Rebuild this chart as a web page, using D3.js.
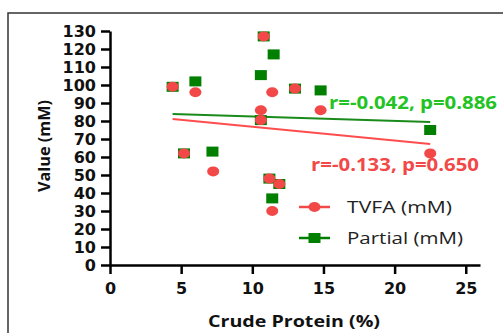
<!DOCTYPE html>
<html>
<head>
<meta charset="utf-8">
<script src="https://cdn.jsdelivr.net/npm/d3@7"></script>
<style>
  body { margin: 0; background: #fff; }
  svg { display: block; }
</style>
</head>
<body>
<div id="chart"></div>
<script>
// crude protein (%) for each sample
const protein = [4.4, 6.0, 5.2, 7.25, 10.8, 11.4, 10.6, 10.6, 13.0, 14.8, 22.5, 11.2, 11.9, 11.4];
const tvfa    = [99, 96, 62, 52, 127, 96, 86, 80.5, 98, 86, 62, 48, 45, 30];
const proteinP = [4.4, 6.0, 5.2, 7.2, 10.8, 11.5, 10.6, 10.6, 13.0, 14.8, 22.5, 11.2, 11.9, 11.4];
const partial  = [99, 102, 62, 63, 127, 117, 105.5, 80.5, 98, 97, 75, 48, 45, 37];

// fitted lines [x, y]
const tvfaFit    = [[4.4, 81.1], [22.5, 67.2]];
const partialFit = [[4.4, 83.9], [22.5, 79.4]];

const xTicks = [0, 5, 10, 15, 20, 25];
const yTicks = [0, 10, 20, 30, 40, 50, 60, 70, 80, 90, 100, 110, 120, 130];

const width = 503, height = 333;
const red = "#f24848", green = "#007f00";

const svg = d3.select("#chart").append("svg")
    .attr("width", width)
    .attr("height", height);

// outer frame
svg.append("rect")
    .attr("x", 8).attr("y", 13)
    .attr("width", 520).attr("height", 340)
    .attr("fill", "none")
    .attr("stroke", "#333")
    .attr("stroke-width", 1.5);

const x = d3.scaleLinear().domain([0, 26]).range([110, 480]);
const y = d3.scaleLinear().domain([0, 130]).range([265, 31]);

const tickFont = "bold 16px 'DejaVu Sans'";

const xAxis = svg.append("g")
    .attr("transform", `translate(0,${y(0)})`)
    .call(d3.axisBottom(x).tickValues(xTicks).tickSize(9).tickPadding(9).tickSizeOuter(0));
const yAxis = svg.append("g")
    .attr("transform", `translate(${x(0)},0)`)
    .call(d3.axisLeft(y).tickValues(yTicks).tickSize(9).tickPadding(5).tickSizeOuter(0));

[xAxis, yAxis].forEach(g => {
    g.select(".domain").attr("stroke", "#000").attr("stroke-width", 2.5);
    g.selectAll(".tick line").attr("stroke", "#000").attr("stroke-width", 2.5);
    g.selectAll(".tick text").style("font", tickFont).attr("fill", "#111");
});
yAxis.selectAll(".tick text").attr("dy", "0.36em");

// axis titles
svg.append("text")
    .attr("x", 294).attr("y", 327)
    .attr("text-anchor", "middle")
    .attr("textLength", 172).attr("lengthAdjust", "spacingAndGlyphs")
    .style("font", "bold 16px 'Open Sans'")
    .attr("fill", "#111")
    .text("Crude Protein (%)");

svg.append("text")
    .attr("transform", "translate(50,146) rotate(-90)")
    .attr("text-anchor", "middle")
    .attr("textLength", 92).attr("lengthAdjust", "spacingAndGlyphs")
    .style("font", "bold 16px 'Open Sans'")
    .attr("fill", "#111")
    .text("Value (mM)");

// fitted lines
const line = d3.line().x(d => x(d[0])).y(d => y(d[1]));
svg.append("path").datum(partialFit)
    .attr("d", line).attr("stroke", "#1a8a1a").attr("stroke-width", 2).attr("fill", "none");
svg.append("path").datum(tvfaFit)
    .attr("d", line).attr("stroke", "#ff4d4d").attr("stroke-width", 2).attr("fill", "none");

// partial squares
svg.append("g").selectAll("rect")
    .data(partial.map((v, i) => [proteinP[i], v]))
    .join("rect")
    .attr("x", d => x(d[0]) - 6)
    .attr("y", d => y(d[1]) - 5)
    .attr("width", 12).attr("height", 10)
    .attr("fill", green);

// tvfa circles
svg.append("g").selectAll("ellipse")
    .data(tvfa.map((v, i) => [protein[i], v]))
    .join("ellipse")
    .attr("cx", d => x(d[0]))
    .attr("cy", d => y(d[1]))
    .attr("rx", 6).attr("ry", 5)
    .attr("fill", red);

// correlation notes
svg.append("text")
    .attr("x", 329).attr("y", 109)
    .attr("textLength", 168).attr("lengthAdjust", "spacingAndGlyphs")
    .style("font", "bold 17px 'Open Sans'")
    .attr("fill", "#22c322")
    .text("r=-0.042, p=0.886");
svg.append("text")
    .attr("x", 311).attr("y", 171)
    .attr("textLength", 168).attr("lengthAdjust", "spacingAndGlyphs")
    .style("font", "bold 17px 'Open Sans'")
    .attr("fill", red)
    .text("r=-0.133, p=0.650");

// legend
const legend = [
    { label: "TVFA (mM)", color: red, shape: "circle", y: 207, len: 105 },
    { label: "Partial (mM)", color: green, shape: "square", y: 238, len: 116 }
];
const lg = svg.append("g").selectAll("g").data(legend).join("g")
    .attr("transform", d => `translate(299,${d.y})`);
lg.append("line")
    .attr("x1", 0).attr("x2", 31)
    .attr("stroke", d => d.color).attr("stroke-width", 2.5);
lg.filter(d => d.shape === "circle").append("ellipse")
    .attr("cx", 15.5).attr("rx", 6).attr("ry", 5)
    .attr("fill", d => d.color);
lg.filter(d => d.shape === "square").append("rect")
    .attr("x", 9.5).attr("y", -5).attr("width", 12).attr("height", 10)
    .attr("fill", d => d.color);
lg.append("text")
    .attr("x", 48).attr("dy", "0.36em")
    .attr("textLength", d => d.len).attr("lengthAdjust", "spacingAndGlyphs")
    .style("font", "17px 'Open Sans'")
    .attr("fill", "#222")
    .text(d => d.label);
</script>
</body>
</html>
